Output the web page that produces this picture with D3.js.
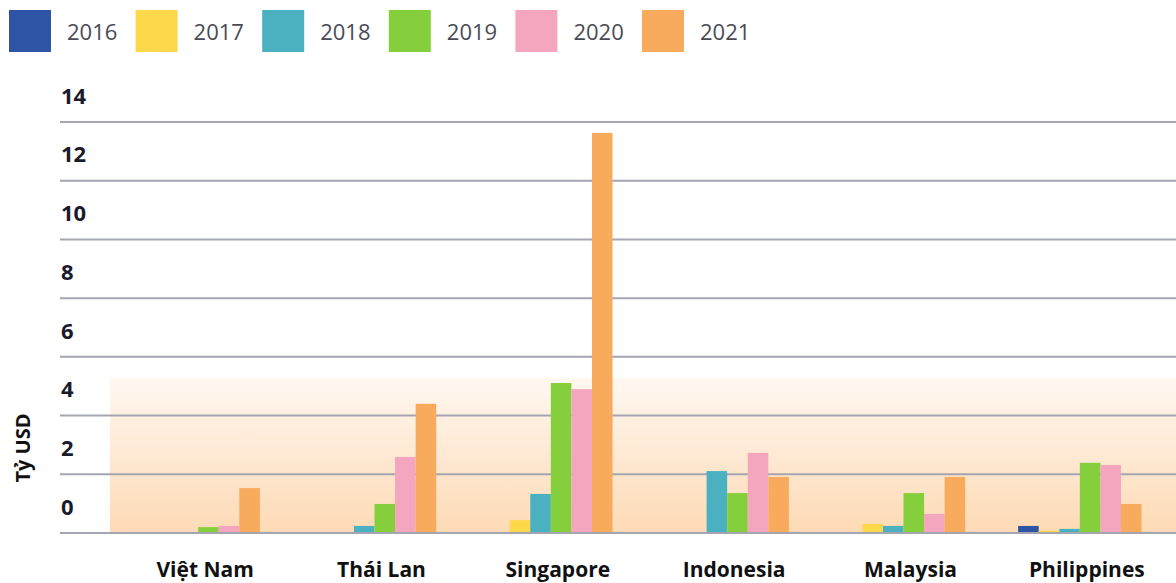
<!DOCTYPE html>
<html>
<head>
<meta charset="utf-8">
<script src="https://cdn.jsdelivr.net/npm/d3@7"></script>
<style>
  body { margin: 0; background: #fff; }
  svg { display: block; }
</style>
</head>
<body>
<div id="chart"></div>
<script>
// Data
const countries = ["Việt Nam", "Thái Lan", "Singapore", "Indonesia", "Malaysia", "Philippines"];
const years = ["2016", "2017", "2018", "2019", "2020", "2021"];
const yearColors = ["#2e55a5", "#fed84b", "#4bb1c1", "#86cf3c", "#f4a6bf", "#f8aa5d"];
const v2016 = [0, 0, 0, 0, 0, 0.24];
const v2017 = [0, 0, 0.44, 0, 0.31, 0.08];
const v2018 = [0, 0.24, 1.33, 2.11, 0.24, 0.14];
const v2019 = [0.2, 0.99, 5.11, 1.36, 1.36, 2.39];
const v2020 = [0.24, 2.59, 4.9, 2.73, 0.65, 2.32];
const v2021 = [1.53, 4.4, 13.63, 1.91, 1.91, 0.99];
const yTicks = [0, 2, 4, 6, 8, 10, 12, 14];

const seriesValues = [v2016, v2017, v2018, v2019, v2020, v2021];

// SVG area
const svgWidth = 1176;
const svgHeight = 583;

const svg = d3.select("#chart")
  .append("svg")
  .attr("width", svgWidth)
  .attr("height", svgHeight);

// Scales
const xScale = d3.scaleBand()
  .domain(countries)
  .range([110, 1168])
  .paddingInner(0.3)
  .paddingOuter(0.15);

const xInner = d3.scaleBand()
  .domain(years)
  .range([0, xScale.bandwidth()]);

const yScale = d3.scaleLinear()
  .domain([0, 14])
  .range([533, 122]);

const color = d3.scaleOrdinal().domain(years).range(yearColors);

// Background gradient band
const defs = svg.append("defs");
const grad = defs.append("linearGradient")
  .attr("id", "bgGrad")
  .attr("x1", 0).attr("y1", 0).attr("x2", 0).attr("y2", 1);
grad.append("stop").attr("offset", "0%").attr("stop-color", "#fff8f1");
grad.append("stop").attr("offset", "100%").attr("stop-color", "#fddab5");

svg.append("rect")
  .attr("x", 110)
  .attr("y", 378)
  .attr("width", svgWidth - 110)
  .attr("height", yScale(0) - 378)
  .attr("fill", "url(#bgGrad)");

// Gridlines
svg.append("g")
  .selectAll("line")
  .data(yTicks)
  .enter()
  .append("line")
  .attr("x1", 60)
  .attr("x2", svgWidth)
  .attr("y1", d => yScale(d))
  .attr("y2", d => yScale(d))
  .attr("stroke", "#a3a5b0")
  .attr("stroke-width", 2);

// Y tick labels (sit above their gridline)
svg.append("g")
  .selectAll("text")
  .data(yTicks)
  .enter()
  .append("text")
  .attr("x", 61)
  .attr("y", d => yScale(d) - 26)
  .attr("dy", "0.35em")
  .style("font-family", "'Open Sans', sans-serif")
  .style("font-weight", "bold")
  .style("font-size", "22px")
  .attr("fill", "#1a1a2a")
  .text(d => d);

// Y axis title
svg.append("text")
  .attr("transform", "translate(30, 448) rotate(-90)")
  .attr("text-anchor", "middle")
  .style("font-family", "'Open Sans', sans-serif")
  .style("font-weight", "bold")
  .style("font-size", "20px")
  .attr("fill", "#111")
  .text("Tỷ USD");

// Bars
const rows = countries.map((c, i) => ({
  country: c,
  values: years.map((y, j) => ({ year: y, value: seriesValues[j][i] }))
}));

const groups = svg.append("g")
  .selectAll("g")
  .data(rows)
  .enter()
  .append("g")
  .attr("transform", d => `translate(${xScale(d.country)}, 0)`);

groups.selectAll("rect")
  .data(d => d.values.filter(v => v.value > 0))
  .enter()
  .append("rect")
  .attr("x", d => xInner(d.year))
  .attr("y", d => yScale(d.value))
  .attr("width", xInner.bandwidth())
  .attr("height", d => yScale(0) - 1 - yScale(d.value))
  .attr("fill", d => color(d.year));

// Category labels
svg.append("g")
  .selectAll("text")
  .data(countries)
  .enter()
  .append("text")
  .attr("x", d => xScale(d) + xScale.bandwidth() / 2 + 7)
  .attr("y", 577)
  .attr("text-anchor", "middle")
  .style("font-family", "'Open Sans', sans-serif")
  .style("font-weight", "bold")
  .style("font-size", "21px")
  .attr("fill", "#111")
  .text(d => d);

// Legend
const legend = svg.append("g")
  .selectAll("g")
  .data(years)
  .enter()
  .append("g")
  .attr("transform", (d, i) => `translate(${9 + i * 126.6}, 10)`);

legend.append("rect")
  .attr("width", 42)
  .attr("height", 42)
  .attr("fill", d => color(d));

legend.append("text")
  .attr("x", 58)
  .attr("y", 22)
  .attr("dy", "0.35em")
  .style("font-family", "'Open Sans', sans-serif")
  .style("font-size", "22px")
  .attr("fill", "#4a4a55")
  .text(d => d);
</script>
</body>
</html>
